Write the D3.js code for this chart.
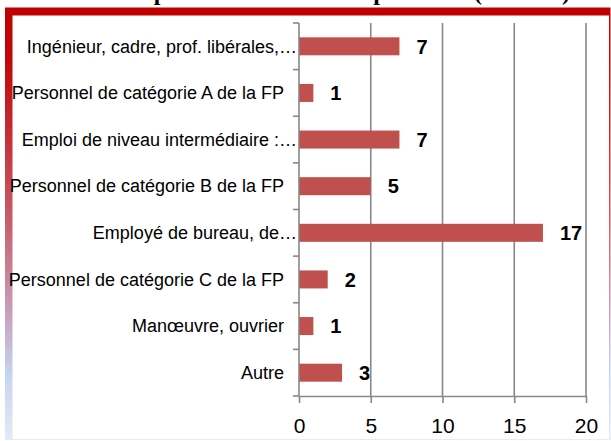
<!DOCTYPE html>
<html>
<head>
<meta charset="utf-8">
<script src="https://cdn.jsdelivr.net/npm/d3@7"></script>
<style>
  body { margin: 0; background: #fff; }
  text { font-family: "Liberation Sans", Arial, sans-serif; }
</style>
</head>
<body>
<div class="chart"></div>
<script>
var categories = [
    "Ingénieur, cadre, prof. libérales,…",
    "Personnel de catégorie A de la FP",
    "Emploi de niveau intermédiaire :…",
    "Personnel de catégorie B de la FP",
    "Employé de bureau, de…",
    "Personnel de catégorie C de la FP",
    "Manœuvre, ouvrier",
    "Autre"
];
var values = [7, 1, 7, 5, 17, 2, 1, 3];
var xTicks = [0, 5, 10, 15, 20];
var title = "Situation professionnelle des répondants (effectifs)";

var width = 611,
    height = 441,
    plot = {left: 299, right: 586, top: 23, bottom: 396};

var svg = d3.select("div.chart").append("svg")
    .attr("width", width)
    .attr("height", height);

// frame gradient, red on top fading to pale blue at the bottom
var grad = svg.append("defs").append("linearGradient")
    .attr("id", "frame")
    .attr("gradientUnits", "userSpaceOnUse")
    .attr("x1", 0).attr("y1", 8)
    .attr("x2", 0).attr("y2", 440);
grad.append("stop").attr("offset", "0").attr("stop-color", "#C00000");
grad.append("stop").attr("offset", "0.12").attr("stop-color", "#C10708");
grad.append("stop").attr("offset", "0.5").attr("stop-color", "#C85F6C");
grad.append("stop").attr("offset", "0.72").attr("stop-color", "#C8A4C2");
grad.append("stop").attr("offset", "0.85").attr("stop-color", "#C6D5EF");
grad.append("stop").attr("offset", "1").attr("stop-color", "#E2EBF6");

// title, cut off at the top of the picture: only descenders show
svg.append("text")
    .attr("x", 570)
    .attr("y", -0.5)
    .style("text-anchor", "end")
    .style("font-family", "'Liberation Serif', 'Times New Roman', serif")
    .style("font-weight", "bold")
    .style("font-size", "24px")
    .text(title);

svg.append("rect")
    .attr("x", 5).attr("y", 7.5)
    .attr("width", 605.5).attr("height", 432.5)
    .attr("fill", "url(#frame)");
svg.append("rect")
    .attr("x", 12.5).attr("y", 15.5)
    .attr("width", 596.5).attr("height", 423.5)
    .attr("fill", "#fff");

var x = d3.scaleLinear()
    .domain([0, 20])
    .range([plot.left, plot.right]);

var y = d3.scaleBand()
    .domain(categories)
    .range([plot.top, plot.bottom])
    .paddingInner(0.614)
    .paddingOuter(0.307);

var axisColor = "#878787";

// vertical gridlines
svg.append("g")
    .selectAll("line")
    .data(xTicks.filter(function(d) { return d > 0; }))
    .join("line")
    .attr("x1", function(d) { return x(d); })
    .attr("x2", function(d) { return x(d); })
    .attr("y1", plot.top)
    .attr("y2", plot.bottom)
    .attr("stroke", axisColor)
    .attr("stroke-width", 1.6);

// bars
svg.append("g")
    .selectAll("rect")
    .data(values)
    .join("rect")
    .attr("x", x(0))
    .attr("y", function(d, i) { return y(categories[i]); })
    .attr("width", function(d) { return x(d) - x(0); })
    .attr("height", y.bandwidth())
    .attr("fill", "#C0504D");

// x axis
var xAxis = svg.append("g")
    .attr("transform", "translate(0," + plot.bottom + ")")
    .call(d3.axisBottom(x).tickValues(xTicks).tickSize(7).tickSizeOuter(0).tickPadding(15));
xAxis.select(".domain").attr("stroke", axisColor).attr("stroke-width", 1.6);
xAxis.selectAll(".tick line").attr("stroke", axisColor).attr("stroke-width", 1.6);
xAxis.selectAll(".tick text")
    .attr("fill", "#000")
    .style("font-family", "'Liberation Sans', Arial, sans-serif")
    .style("font-size", "21px");

// y axis: line, ticks between categories, labels
var yAxis = svg.append("g");
yAxis.append("line")
    .attr("x1", plot.left).attr("x2", plot.left)
    .attr("y1", plot.top).attr("y2", plot.bottom)
    .attr("stroke", axisColor)
    .attr("stroke-width", 1.6);
yAxis.selectAll("line.tick")
    .data(d3.range(categories.length + 1))
    .join("line")
    .attr("class", "tick")
    .attr("x1", plot.left - 6).attr("x2", plot.left)
    .attr("y1", function(i) { return plot.top + i * y.step(); })
    .attr("y2", function(i) { return plot.top + i * y.step(); })
    .attr("stroke", axisColor)
    .attr("stroke-width", 1.6);
yAxis.selectAll("text")
    .data(categories)
    .join("text")
    .attr("x", function(d) { return d.slice(-1) === "…" ? 297 : 284; })
    .attr("y", function(d) { return y(d) + y.bandwidth() / 2; })
    .attr("dy", "0.35em")
    .style("text-anchor", "end")
    .style("font-size", "18px")
    .attr("fill", "#000")
    .text(function(d) { return d; });

// value labels
svg.append("g")
    .selectAll("text")
    .data(values)
    .join("text")
    .attr("x", function(d) { return x(d) + 17; })
    .attr("y", function(d, i) { return y(categories[i]) + y.bandwidth() / 2; })
    .attr("dy", "0.36em")
    .style("font-size", "20px")
    .style("font-weight", "bold")
    .attr("fill", "#000")
    .text(function(d) { return d; });
</script>
</body>
</html>
